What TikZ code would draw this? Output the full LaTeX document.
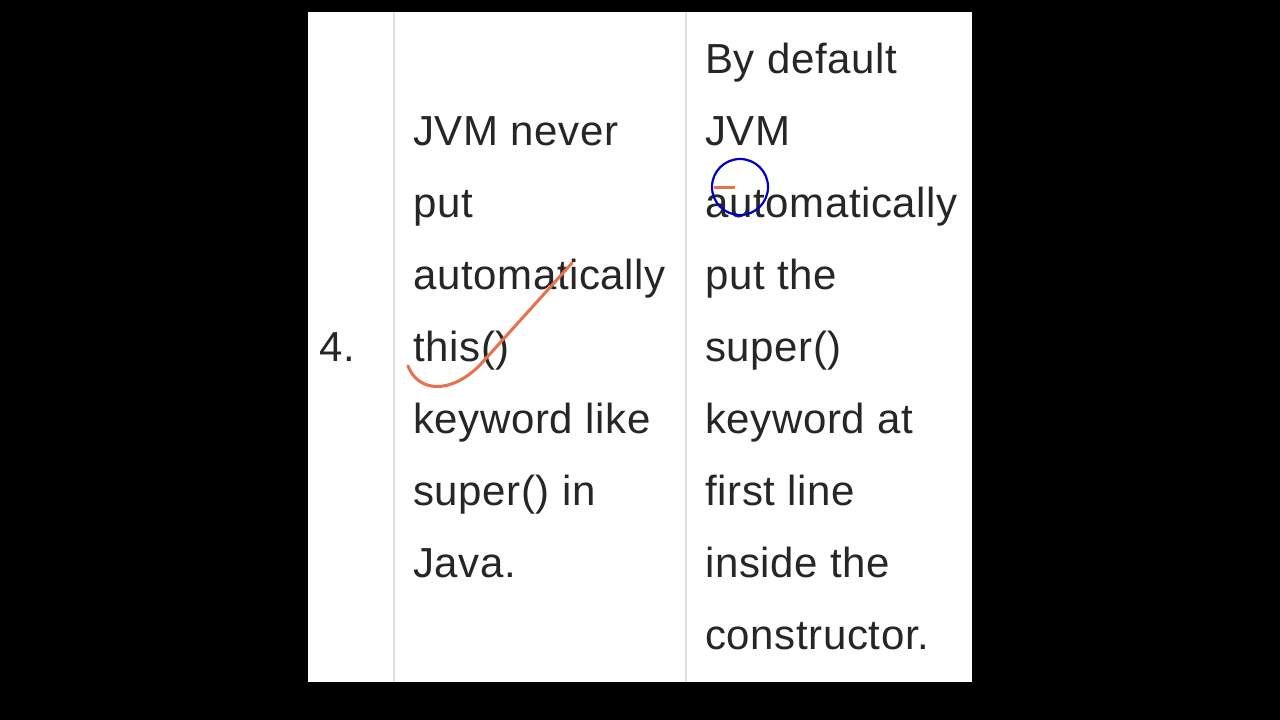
\documentclass[tikz,border=0pt]{standalone}
\usepackage{fontspec}
\setmainfont{Liberation Sans}
\definecolor{pen}{HTML}{E8704A}
\begin{document}
\begin{tikzpicture}[x=1pt,y=-1pt,
  txt/.style={anchor=base west,inner sep=0pt,font=\fontsize{42}{50}\selectfont\addfontfeatures{LetterSpace=1.5},text=black!85},
  grid/.style={draw=black!12,line width=1.2pt}]
\useasboundingbox (0,0) rectangle (1280,720);
\fill[black] (0,0) rectangle (1280,720);
\fill[white] (308,12) rectangle (972,682);
\draw[grid] (394,12) -- (394,682);
\draw[grid] (686,12) -- (686,682);
\node[txt] (n) at (319,361) {4.};
\foreach \t [count=\i] in {JVM never,put,automatically,this(),keyword like,super() in,Java.}
  \node[txt] (l\i) at (413,{73+72*\i}) {\t};
\foreach \t [count=\i] in {By default,JVM,automatically,put the,super(),keyword at,first line,inside the,constructor.}
  \node[txt] (r\i) at (705,{1+72*\i}) {\t};
\draw[pen,line width=3pt,line cap=round] (408,366) .. controls (418,392) and (450,395) .. (480,365) -- (572,263);
\draw[blue!80!black,line width=2.2pt] (740,187) circle (28);
\draw[pen,line width=3pt] (714,187) -- (735,187);
\end{tikzpicture}
\end{document}
